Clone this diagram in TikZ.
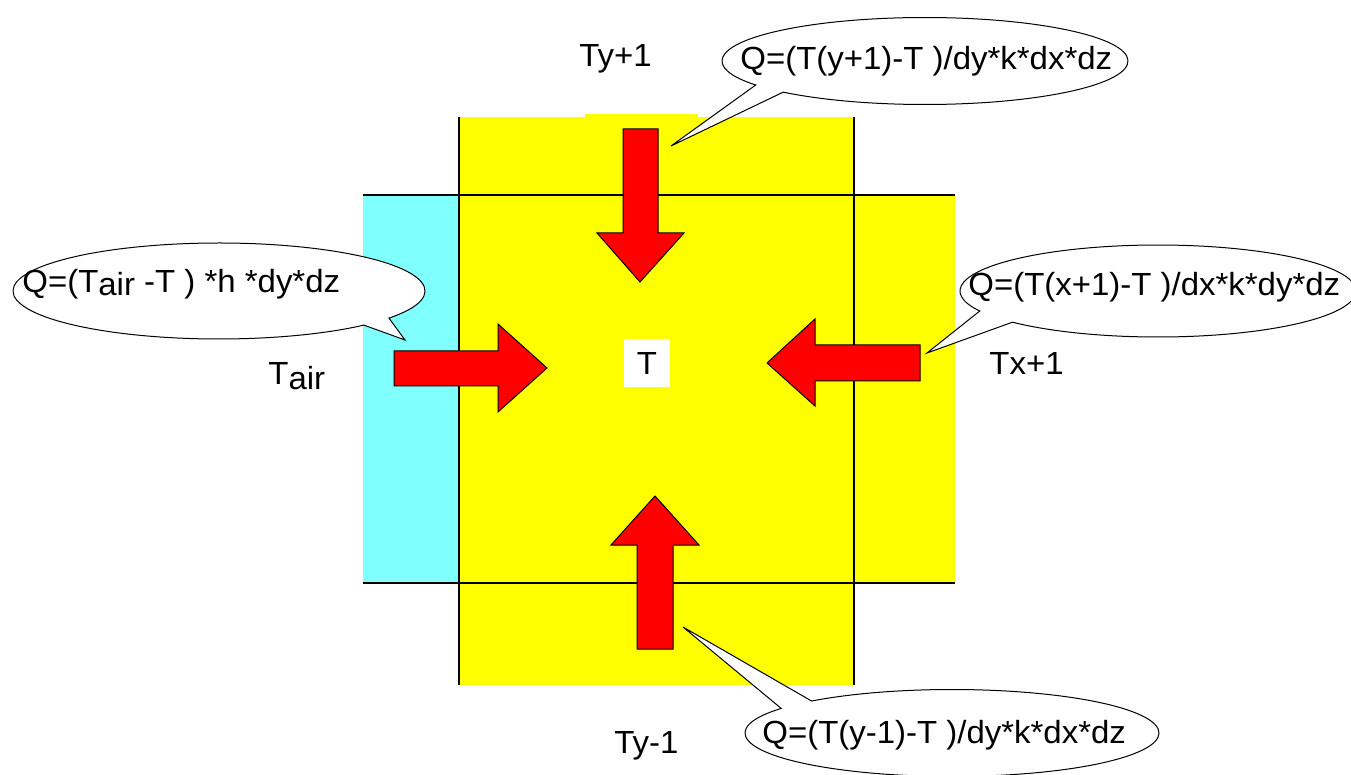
\documentclass[tikz,border=0pt]{standalone}
\usepackage{fontspec}
\setmainfont[FakeStretch=1.03]{Liberation Sans}
\definecolor{cellyellow}{RGB}{255,255,0}
\definecolor{aircyan}{RGB}{128,255,255}
\definecolor{arrowred}{RGB}{255,0,0}
\begin{document}
\begin{tikzpicture}[x=0.5pt,y=-0.5pt,
  gridline/.style={line width=0.75pt,black},
  redarrow/.style={fill=arrowred,draw=black,line width=0.5pt,line join=miter},
  bubble/.style={draw=black,fill=white,line width=0.5pt,line join=miter},
  lbl/.style={font=\fontsize{16pt}{19pt}\selectfont,inner sep=0pt,anchor=base west}]
\useasboundingbox (0,0) rectangle (1351,775);
% cells
\fill[cellyellow] (459,117) rectangle (854,685);
\fill[cellyellow] (585,114) rectangle (698,118);
\fill[cellyellow] (854,195) rectangle (955,583);
\fill[aircyan] (363,195) rectangle (459,583);
\draw[gridline] (363,195) -- (955,195);
\draw[gridline] (363,583) -- (955,583);
\draw[gridline] (459,117) -- (459,685);
\draw[gridline] (854,117) -- (854,685);
% red arrows
\draw[redarrow] (623,129) -- (658,129) -- (658,233) -- (684,233) -- (640,282) -- (597,233) -- (623,233) -- cycle;
\draw[redarrow] (637,649) -- (673,649) -- (673,545) -- (699,545) -- (655,496) -- (611,545) -- (637,545) -- cycle;
\draw[redarrow] (394,351) -- (498,351) -- (498,324) -- (547,368) -- (498,412) -- (498,386) -- (394,386) -- cycle;
\draw[redarrow] (920,345) -- (815,345) -- (815,319) -- (767,363) -- (815,406) -- (815,381) -- (920,381) -- cycle;
% centre label
\node[fill=white,minimum width=23pt,minimum height=24pt,inner sep=0pt,font=\fontsize{16pt}{19pt}\selectfont] (tc) at (647,363) {T};
% callout centres and pointer tips
\coordinate (ctop) at (925,61);   \coordinate (ptop) at (671,146);
\coordinate (cleft) at (219,291); \coordinate (pleft) at (405,340);
\coordinate (cright) at (1158,291); \coordinate (pright) at (927,353);
\coordinate (cbot) at (952,733);  \coordinate (pbot) at (683,627);
% callouts
\draw[bubble] (ctop) ++(225.7:101.5pt and 21.75pt)
  arc[start angle=225.7,end angle=573.5,x radius=101.5pt,y radius=21.75pt] -- (ptop) -- cycle;
\draw[bubble] (cleft) ++(-34.4:103pt and 24pt)
  arc[start angle=-34.4,end angle=314.7,x radius=103pt,y radius=24pt] -- (pleft) -- cycle;
\draw[bubble] (cright) ++(222.7:99pt and 23pt)
  arc[start angle=222.7,end angle=565.8,x radius=99pt,y radius=23pt] -- (pright) -- cycle;
\draw[bubble] (cbot) ++(145.6:103.5pt and 21.75pt)
  arc[start angle=145.6,end angle=492.7,x radius=103.5pt,y radius=21.75pt] -- (pbot) -- cycle;
% callout texts
\node[lbl] (qtop) at (740,70) {Q=(T(y+1)-T )/dy*k*dx*dz};
\node[lbl] (qleft) at (22,293) {Q=(T\raisebox{-1.2pt}{air} -T ) *h *dy*dz};
\node[lbl] (qright) at (968,296) {Q=(T(x+1)-T )/dx*k*dy*dz};
\node[lbl] (qbot) at (762,743) {Q=(T(y-1)-T )/dy*k*dx*dz};
% neighbour labels
\node[lbl] (tyup) at (579,67) {Ty+1};
\node[lbl] (tair) at (268,385) {T\raisebox{-2.5pt}{air}};
\node[lbl] (txp) at (989,375) {Tx+1};
\node[lbl] (tydn) at (614,753) {Ty-1};
\end{tikzpicture}
\end{document}
